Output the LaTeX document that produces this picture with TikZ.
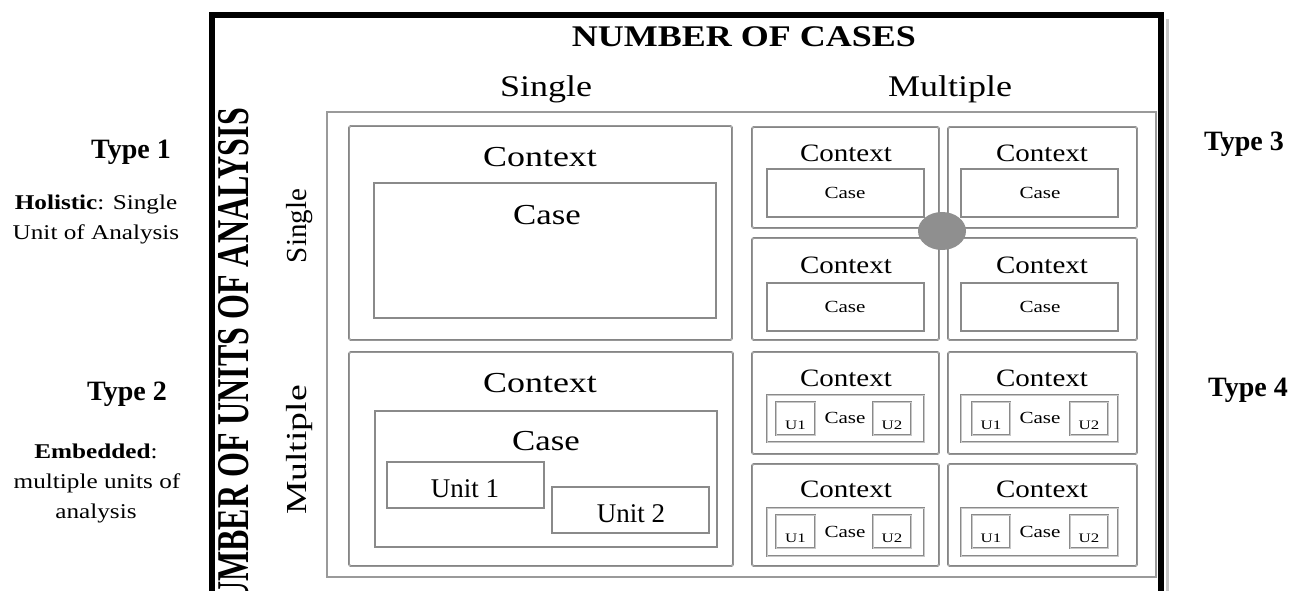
\documentclass[tikz,border=0pt]{standalone}
\usepackage{fontspec}
\setmainfont{Liberation Serif}
\usepackage{graphicx}
\usetikzlibrary{shapes.geometric}

\definecolor{outergray}{HTML}{9A9A9A}
\definecolor{boxgray}{HTML}{7C7C7C}
\definecolor{boxlight}{HTML}{C8C8C8}
\definecolor{casegray}{HTML}{8A8A8A}
\definecolor{dotfill}{HTML}{8F8F8F}

% horizontal stretch of a text
\newcommand{\sx}[2]{\scalebox{#1}[1]{#2}}
\newcommand{\fsz}[1]{\fontsize{#1}{1.2\dimexpr #1pt\relax}\selectfont}

\tikzset{
  lbl/.style={inner sep=0pt, outer sep=0pt, anchor=base},
  vlbl/.style={inner sep=0pt, outer sep=0pt, anchor=base, rotate=90},
  outerbox/.style={draw=outergray, line width=1.5pt},
  ctxbox/.style={draw=boxgray, double=boxlight, double distance=0.5pt,
                 line width=0.65pt, rounded corners=2pt},
  casebox/.style={draw=casegray, line width=1.3pt},
  unitbox/.style={draw=casegray, double=boxlight, double distance=0.4pt,
                  line width=0.55pt},
  framebar/.style={line width=6pt, black},
}

\begin{document}
\begin{tikzpicture}[x=1pt, y=-1pt]
\useasboundingbox (0,0) rectangle (1310,591);
\clip (0,0) rectangle (1310,591);

% black frame, open at the bottom
\draw[line width=3pt, black!22] (1167,19) -- (1167,591);
\draw[framebar] (212,591) -- (212,15) -- (1161,15) -- (1161,591);

% headings
\node[lbl, font=\fsz{30}\bfseries] (hcases) at (744,47) {\sx{1.2}{NUMBER OF CASES}};
\node[lbl, font=\fsz{30}] (hsingle) at (546,97) {\sx{1.2}{Single}};
\node[lbl, font=\fsz{30}] (hmultiple) at (950,97) {\sx{1.2}{Multiple}};
\node[vlbl, font=\fsz{32}\bfseries] (hunits) at (248,368)
  {\scalebox{1}[1.42]{NUMBER OF UNITS OF ANALYSIS}};
\node[vlbl, font=\fsz{29}] (vsingle) at (306,226) {Single};
\node[vlbl, font=\fsz{29}] (vmultiple) at (306,450) {\sx{1.3}{Multiple}};

% side descriptions
\node[lbl, font=\fsz{28}\bfseries] (type1) at (131,159) {Type 1};
\node[lbl, font=\fsz{21}] (hol1) at (96,210) {\sx{1.2}{\textbf{Holistic}: Single}};
\node[lbl, font=\fsz{21}] (hol2) at (96,240) {\sx{1.2}{Unit of Analysis}};
\node[lbl, font=\fsz{28}\bfseries] (type2) at (127,400) {Type 2};
\node[lbl, font=\fsz{21}] (emb1) at (96,458) {\sx{1.2}{\textbf{Embedded}:}};
\node[lbl, font=\fsz{21}] (emb2) at (97,488) {\sx{1.2}{multiple units of}};
\node[lbl, font=\fsz{21}] (emb3) at (96,518) {\sx{1.2}{analysis}};
\node[lbl, font=\fsz{28}\bfseries] (type3) at (1244,151) {Type 3};
\node[lbl, font=\fsz{28}\bfseries] (type4) at (1248,396) {Type 4};

% outer matrix box
\draw[outerbox] (327,112) rectangle (1156,577);

% single case, single unit
\draw[ctxbox] (349,126) rectangle (732,340);
\draw[casebox] (374,183) rectangle (716,318);
\node[lbl, font=\fsz{29}] (ctxA) at (540,167) {\sx{1.24}{Context}};
\node[lbl, font=\fsz{29}] (caseA) at (547,225) {\sx{1.2}{Case}};

% single case, multiple units
\draw[ctxbox] (349,352) rectangle (733,566);
\draw[casebox] (375,411) rectangle (717,547);
\draw[casebox] (387,462) rectangle (544,508);
\draw[casebox] (552,487) rectangle (709,533);
\node[lbl, font=\fsz{29}] (ctxB) at (540,392) {\sx{1.24}{Context}};
\node[lbl, font=\fsz{29}] (caseB) at (546,450) {\sx{1.2}{Case}};
\node[lbl, font=\fsz{27}] (unit1) at (465,497) {Unit 1};
\node[lbl, font=\fsz{27}] (unit2) at (631,522) {Unit 2};

% multiple cases: context boxes
\foreach \c/\xa/\xb/\cx in {1/752/939/846, 2/948/1137/1042} {
  \foreach \r/\ya/\yb/\by in {1/127/228/162, 2/238/340/273, 3/352/454/386, 4/464/566/497} {
    \draw[ctxbox] (\xa,\ya) rectangle (\xb,\yb);
    \node[lbl, font=\fsz{25}] (ctx-\c-\r) at (\cx,\by) {\sx{1.16}{Context}};
  }
}

% multiple cases, single unit
\foreach \c/\xa/\xb/\cx in {1/767/924/845, 2/961/1118/1040} {
  \foreach \r/\ya/\yb/\by in {1/169/217/198, 2/283/331/312} {
    \draw[casebox] (\xa,\ya) rectangle (\xb,\yb);
    \node[lbl, font=\fsz{17}] (case-\c-\r) at (\cx,\by) {\sx{1.24}{Case}};
  }
}

% multiple cases, multiple units
\foreach \c/\xa/\xb/\cx/\ua/\ub/\va/\vb in
    {1/767/924/845/776/815/873/911, 2/961/1118/1040/972/1010/1070/1108} {
  \foreach \r/\ya/\yb/\by/\uy/\uz/\ul in {3/395/442/423/402/435/429, 4/508/556/537/515/548/542} {
    \draw[unitbox] (\xa,\ya) rectangle (\xb,\yb);
    \draw[unitbox] (\ua,\uy) rectangle (\ub,\uz);
    \draw[unitbox] (\va,\uy) rectangle (\vb,\uz);
    \node[lbl, font=\fsz{17}] (case-\c-\r) at (\cx,\by) {\sx{1.24}{Case}};
    \node[lbl, font=\fsz{13}] (u1-\c-\r) at ({(\ua+\ub)/2},\ul) {\sx{1.3}{U1}};
    \node[lbl, font=\fsz{13}] (u2-\c-\r) at ({(\va+\vb)/2},\ul) {\sx{1.3}{U2}};
  }
}

% joint marker between the four single-unit cases
\node[ellipse, fill=dotfill, minimum width=48pt, minimum height=38pt, inner sep=0pt]
  (joint) at (942,231) {};
\end{tikzpicture}
\end{document}
